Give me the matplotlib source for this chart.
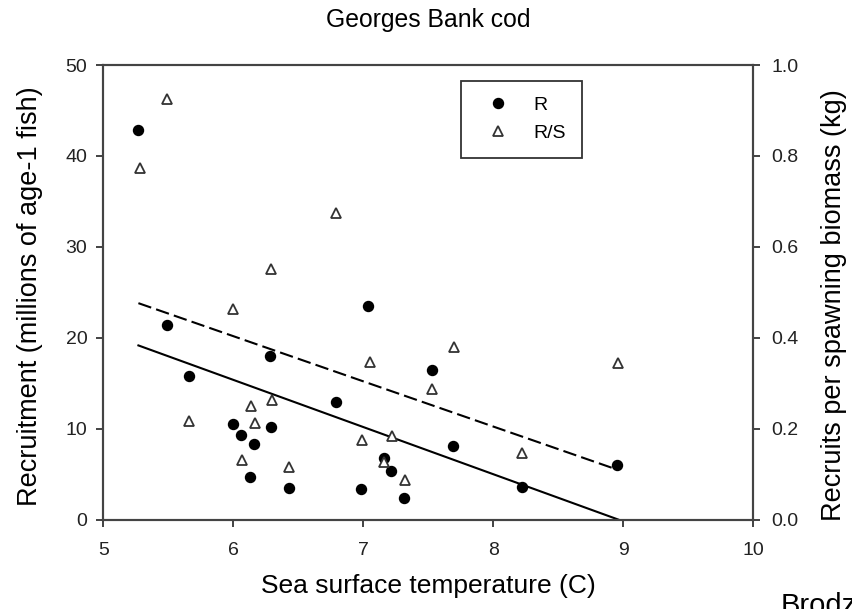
import matplotlib
matplotlib.use("Agg")
import matplotlib.pyplot as plt

plt.rcParams['font.family'] = ['Liberation Sans', 'DejaVu Sans']

# Recruitment (R), millions of age-1 fish
sst_R = [5.27, 5.49, 5.66, 6.00, 6.06, 6.13, 6.16, 6.28, 6.29, 6.43,
         6.79, 6.98, 7.04, 7.16, 7.21, 7.31, 7.53, 7.69, 8.22, 8.95]
R = [42.9, 21.35, 15.8, 10.55, 9.27, 4.69, 8.27, 18.0, 10.2, 3.48,
     12.9, 3.37, 23.5, 6.8, 5.35, 2.38, 16.5, 8.05, 3.6, 6.04]

# Recruits per spawning biomass (R/S), kg
sst_RS = [5.28, 5.49, 5.66, 6.00, 6.07, 6.14, 6.17, 6.29, 6.30, 6.43,
          6.79, 6.99, 7.05, 7.16, 7.22, 7.32, 7.53, 7.70, 8.22, 8.96]
RS = [0.773, 0.925, 0.216, 0.464, 0.130, 0.249, 0.212, 0.552, 0.263, 0.115,
      0.674, 0.174, 0.347, 0.127, 0.183, 0.086, 0.287, 0.379, 0.147, 0.344]

# Fitted lines (endpoints)
fit_x_R = [5.27, 8.96]
fit_R = [19.15, 0.0]
fit_x_RS = [5.27, 8.91]
fit_RS = [0.476, 0.114]

x_ticks = [5, 6, 7, 8, 9, 10]
y_ticks = [0, 10, 20, 30, 40, 50]
y2_ticks = [0, 0.2, 0.4, 0.6, 0.8, 1.0]
y2_ticklabels = ['0.0', '0.2', '0.4', '0.6', '0.8', '1.0']

W, H = 853, 609
fig = plt.figure(figsize=(W / 100, H / 100), dpi=100)
ax = fig.add_axes([103.3 / W, 1 - 519.5 / H, (753.3 - 103.3) / W, (519.5 - 65) / H])
ax2 = ax.twinx()

ax.plot(fit_x_R, fit_R, color='black', lw=1.5, zorder=2)
ax2.plot(fit_x_RS, fit_RS, color='black', lw=1.5, ls=(0, (6.5, 2.5)), zorder=2)

hR, = ax.plot(sst_R, R, 'o', color='black', ms=7.2, ls='none', zorder=3, label='R')
hRS, = ax2.plot(sst_RS, RS, '^', mfc='white', mec='#333333', mew=1.3, ms=7.5,
                ls='none', zorder=3, label='R/S')

ax.set_xlim(5, 10)
ax.set_ylim(0, 50)
ax2.set_ylim(0, 1.0)
ax.set_xticks(x_ticks)
ax.set_yticks(y_ticks)
ax2.set_yticks(y2_ticks)
ax2.set_yticklabels(y2_ticklabels)

for a in (ax, ax2):
    for s in a.spines.values():
        s.set_linewidth(1.5)
        s.set_color('#444444')
    a.tick_params(direction='out', length=5, width=1.2, labelsize=14,
                  colors='#222222')
ax.tick_params(axis='x', pad=11.5)
ax.tick_params(axis='y', pad=6.5)
ax2.tick_params(axis='y', pad=8)

ax.set_xlabel('Sea surface temperature (C)', fontsize=19, va='baseline')
ax.xaxis.set_label_coords(0.5, (519.5 - 593) / 454.5)
ax.set_ylabel('Recruitment (millions of age-1 fish)', fontsize=19.5)
ax.yaxis.set_label_coords((43 - 103.3) / 650, (519.5 - 296) / 454.5)
ax2.set_ylabel('Recruits per spawning biomass (kg)', fontsize=19.5)
ax2.yaxis.set_label_coords((821 - 103.3) / 650, (519.5 - 305) / 454.5)
fig.text(428 / W, 1 - 27 / H, 'Georges Bank cod', ha='center', va='baseline', fontsize=17.8)

leg = ax.legend(handles=[hR, hRS], loc='upper left',
                bbox_to_anchor=(460.7 / W, 1 - 80.7 / H), bbox_transform=fig.transFigure,
                fontsize=14, frameon=True, fancybox=False, borderpad=0.8,
                labelspacing=0.54, handlelength=2.2, handletextpad=0.75,
                borderaxespad=0)
leg.get_frame().set_edgecolor('black')
leg.get_frame().set_linewidth(1.3)
leg.set_zorder(5)

fig.text(781 / W, -5 / H, 'Brodziak', ha='left', va='baseline', fontsize=21)

fig.savefig('out.png', dpi=100)
